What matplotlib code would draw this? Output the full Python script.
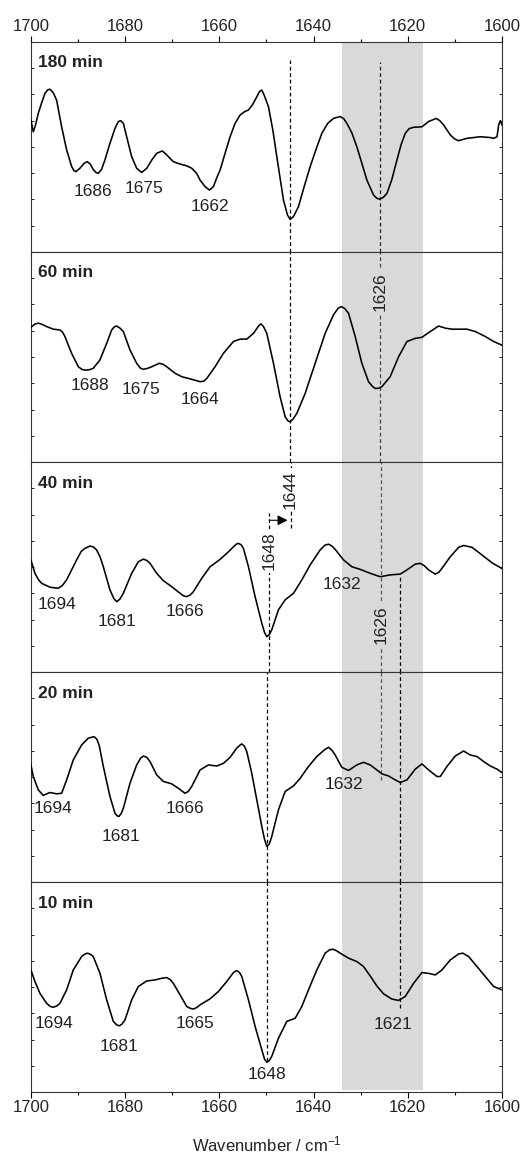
import matplotlib
matplotlib.use("Agg")
import matplotlib.pyplot as plt

plt.rcParams['font.family'] = ['Liberation Sans', 'DejaVu Sans']
plt.rcParams['mathtext.fontset'] = 'custom'
plt.rcParams['mathtext.rm'] = 'Liberation Sans'
plt.rcParams['mathtext.default'] = 'regular'

times = ["180 min", "60 min", "40 min", "20 min", "10 min"]

# (wavenumber, signal); arbitrary units, 0..8 per panel
spec_180 = [
    (1700.00, 5.03), (1699.50, 4.58), (1699.00, 4.85), (1698.44, 5.28), (1697.60, 5.75),
    (1697.00, 6.05), (1696.40, 6.18), (1695.96, 6.20), (1695.30, 6.08), (1694.55, 5.79),
    (1693.48, 4.77), (1692.42, 3.89), (1691.36, 3.26), (1690.86, 3.10), (1690.44, 3.06),
    (1689.60, 3.19), (1688.70, 3.38), (1688.03, 3.44), (1687.40, 3.35), (1686.80, 3.15),
    (1686.20, 3.03), (1685.69, 3.00), (1685.00, 3.15), (1684.30, 3.50), (1683.22, 4.14),
    (1682.15, 4.71), (1681.44, 4.97), (1680.95, 5.00), (1680.38, 4.90), (1679.67, 4.39),
    (1678.61, 3.63), (1677.55, 3.19), (1676.49, 3.03), (1675.40, 3.19), (1674.36, 3.50),
    (1673.30, 3.76), (1672.10, 3.85), (1671.18, 3.70), (1669.76, 3.44), (1668.34, 3.35),
    (1666.90, 3.28), (1665.86, 3.19), (1664.80, 2.99), (1664.09, 2.74), (1663.03, 2.49),
    (1662.11, 2.36), (1661.26, 2.49), (1660.50, 2.85), (1659.84, 3.12), (1658.78, 3.76),
    (1657.72, 4.39), (1656.66, 4.90), (1655.59, 5.22), (1654.60, 5.35), (1653.82, 5.41),
    (1653.00, 5.60), (1652.41, 5.79), (1651.49, 6.11), (1650.99, 6.17), (1650.50, 5.98),
    (1649.58, 5.54), (1648.65, 4.65), (1647.80, 3.63), (1646.39, 1.98), (1645.54, 1.41),
    (1644.97, 1.24), (1644.26, 1.35), (1643.20, 1.73), (1641.90, 2.55), (1640.72, 3.25),
    (1639.40, 3.95), (1638.24, 4.52), (1637.00, 4.90), (1635.76, 5.09), (1634.35, 5.16),
    (1633.60, 5.08), (1632.93, 4.90), (1631.90, 4.55), (1630.81, 4.01), (1629.70, 3.35),
    (1628.68, 2.74), (1627.27, 2.17), (1626.60, 2.05), (1625.99, 2.01), (1625.20, 2.08),
    (1624.43, 2.23), (1623.40, 2.75), (1622.31, 3.50), (1621.40, 4.10), (1620.54, 4.52),
    (1619.70, 4.70), (1618.77, 4.75), (1617.00, 4.77), (1616.20, 4.88), (1615.58, 4.97),
    (1613.95, 5.09), (1613.20, 5.00), (1612.39, 4.84), (1610.98, 4.46), (1610.00, 4.30),
    (1609.21, 4.24), (1607.44, 4.33), (1604.60, 4.39), (1602.50, 4.36), (1601.77, 4.33),
    (1601.06, 4.39), (1600.71, 4.84), (1600.35, 5.00), (1600.00, 4.84),
]

spec_60 = [
    (1700.00, 5.13), (1699.20, 5.25), (1698.44, 5.29), (1697.60, 5.24), (1696.67, 5.16),
    (1695.25, 5.06), (1693.84, 5.03), (1693.30, 4.95), (1692.78, 4.78), (1691.36, 4.14),
    (1689.94, 3.63), (1689.10, 3.52), (1688.31, 3.50), (1687.50, 3.52), (1686.76, 3.57),
    (1685.34, 3.89), (1683.92, 4.52), (1682.86, 5.03), (1682.30, 5.15), (1681.80, 5.18),
    (1681.10, 5.10), (1680.38, 4.97), (1678.97, 4.27), (1677.55, 3.76), (1676.80, 3.58),
    (1676.13, 3.53), (1675.20, 3.57), (1674.36, 3.63), (1672.73, 3.76), (1671.90, 3.72),
    (1671.18, 3.63), (1669.41, 3.38), (1667.99, 3.25), (1665.86, 3.15), (1664.09, 3.06),
    (1663.30, 3.08), (1662.68, 3.18), (1660.91, 3.63), (1659.14, 4.14), (1657.01, 4.59),
    (1655.60, 4.68), (1654.18, 4.68), (1652.76, 4.90), (1651.60, 5.20), (1651.13, 5.26),
    (1650.60, 5.15), (1649.93, 4.90), (1648.51, 3.76), (1647.10, 2.48), (1646.03, 1.72),
    (1645.40, 1.56), (1644.97, 1.53), (1644.30, 1.65), (1643.56, 1.85), (1641.79, 2.61),
    (1639.66, 3.76), (1637.54, 4.90), (1635.76, 5.61), (1634.80, 5.85), (1634.14, 5.92),
    (1633.40, 5.85), (1632.58, 5.67), (1631.16, 4.78), (1629.75, 3.76), (1628.33, 3.06),
    (1627.50, 2.88), (1626.91, 2.80), (1626.20, 2.81), (1625.50, 2.87), (1623.73, 3.25),
    (1621.95, 4.01), (1620.18, 4.59), (1618.41, 4.71), (1617.00, 4.75), (1615.23, 4.97),
    (1613.46, 5.18), (1612.04, 5.10), (1610.62, 5.06), (1608.85, 5.06), (1607.44, 5.06),
    (1605.67, 4.97), (1603.54, 4.78), (1601.77, 4.59), (1600.00, 4.45),
]

spec_40 = [
    (1700.00, 4.27), (1699.15, 3.76), (1698.40, 3.52), (1697.73, 3.38), (1695.96, 3.23),
    (1694.19, 3.19), (1693.30, 3.30), (1692.42, 3.51), (1690.30, 4.27), (1689.30, 4.60),
    (1688.53, 4.71), (1687.46, 4.80), (1686.70, 4.76), (1686.05, 4.65), (1685.30, 4.38),
    (1684.63, 4.01), (1683.22, 3.13), (1682.40, 2.80), (1681.80, 2.68), (1681.10, 2.78),
    (1680.38, 3.00), (1678.61, 3.76), (1677.20, 4.20), (1676.13, 4.30), (1675.40, 4.25),
    (1674.72, 4.14), (1673.30, 3.76), (1671.88, 3.48), (1670.11, 3.25), (1668.34, 3.00),
    (1667.60, 2.90), (1666.93, 2.87), (1666.20, 2.93), (1665.51, 3.06), (1663.74, 3.57),
    (1661.97, 4.01), (1659.84, 4.29), (1658.07, 4.58), (1657.01, 4.77), (1656.40, 4.87),
    (1655.95, 4.90), (1655.40, 4.85), (1654.89, 4.71), (1653.82, 4.01), (1652.41, 2.87),
    (1650.99, 1.86), (1650.40, 1.50), (1649.93, 1.35), (1649.40, 1.42), (1648.87, 1.61),
    (1647.45, 2.37), (1646.03, 2.75), (1644.26, 3.00), (1642.49, 3.51), (1640.72, 4.08),
    (1638.60, 4.65), (1637.60, 4.83), (1636.83, 4.87), (1636.10, 4.80), (1635.41, 4.67),
    (1633.64, 4.27), (1631.87, 4.01), (1630.10, 3.91), (1627.97, 3.76), (1625.85, 3.63),
    (1623.73, 3.70), (1621.60, 3.73), (1620.18, 3.89), (1618.41, 4.11), (1617.35, 4.14),
    (1616.50, 4.05), (1615.58, 3.89), (1614.16, 3.73), (1613.40, 3.80), (1612.75, 3.95),
    (1610.98, 4.39), (1609.21, 4.75), (1608.15, 4.82), (1606.37, 4.75), (1604.25, 4.46),
    (1602.12, 4.16), (1600.00, 3.94),
]

spec_20 = [
    (1700.00, 4.46), (1699.50, 4.02), (1698.44, 3.51), (1697.38, 3.30), (1695.96, 3.41),
    (1694.55, 3.36), (1693.48, 3.38), (1692.42, 3.89), (1691.01, 4.65), (1689.24, 5.22),
    (1687.82, 5.48), (1686.61, 5.54), (1686.00, 5.44), (1685.50, 5.20), (1684.63, 4.40),
    (1683.22, 3.26), (1682.15, 2.62), (1681.70, 2.52), (1681.30, 2.50), (1680.80, 2.62),
    (1680.38, 2.81), (1678.97, 3.76), (1677.55, 4.46), (1676.70, 4.72), (1676.13, 4.80),
    (1675.40, 4.75), (1674.72, 4.59), (1673.30, 4.08), (1671.88, 3.83), (1670.11, 3.74),
    (1668.70, 3.57), (1667.28, 3.38), (1666.60, 3.45), (1665.86, 3.64), (1664.09, 4.27),
    (1662.32, 4.46), (1660.55, 4.42), (1659.14, 4.52), (1657.72, 4.75), (1656.30, 5.10),
    (1655.60, 5.22), (1655.24, 5.26), (1654.70, 5.18), (1654.18, 4.97), (1653.12, 4.14),
    (1652.05, 3.13), (1650.99, 2.12), (1650.40, 1.62), (1649.93, 1.36), (1649.40, 1.45),
    (1648.87, 1.74), (1647.45, 2.75), (1646.03, 3.45), (1644.26, 3.66), (1642.85, 3.95),
    (1641.08, 4.40), (1639.31, 4.78), (1637.60, 5.05), (1636.83, 5.13), (1636.10, 5.02),
    (1635.41, 4.84), (1634.00, 4.37), (1632.58, 4.25), (1630.81, 4.46), (1629.39, 4.56),
    (1627.97, 4.46), (1626.56, 4.27), (1625.50, 4.12), (1624.08, 4.04), (1622.66, 3.89),
    (1621.60, 3.79), (1620.18, 3.89), (1618.41, 4.30), (1617.00, 4.50), (1615.58, 4.27),
    (1613.81, 4.02), (1613.10, 4.02), (1611.69, 4.40), (1609.92, 4.80), (1608.15, 4.99),
    (1606.73, 4.84), (1605.31, 4.78), (1603.90, 4.59), (1602.48, 4.42), (1601.06, 4.30),
    (1600.00, 4.17),
]

spec_10 = [
    (1700.00, 4.65), (1699.15, 4.21), (1698.09, 3.76), (1696.67, 3.38), (1695.90, 3.26),
    (1695.25, 3.23), (1694.50, 3.28), (1693.84, 3.38), (1692.42, 3.89), (1691.01, 4.65),
    (1689.24, 5.16), (1688.50, 5.26), (1687.96, 5.29), (1687.30, 5.24), (1686.76, 5.16),
    (1685.34, 4.52), (1683.92, 3.51), (1682.51, 2.69), (1681.80, 2.56), (1681.23, 2.52),
    (1680.60, 2.60), (1680.03, 2.75), (1678.61, 3.51), (1677.20, 4.02), (1675.42, 4.23),
    (1673.65, 4.27), (1672.30, 4.33), (1671.18, 4.36), (1670.40, 4.28), (1669.76, 4.14),
    (1668.34, 3.70), (1666.93, 3.26), (1666.20, 3.19), (1665.51, 3.16), (1664.80, 3.22),
    (1664.09, 3.32), (1661.97, 3.55), (1660.20, 3.83), (1658.43, 4.21), (1657.01, 4.55),
    (1656.40, 4.62), (1656.09, 4.61), (1655.60, 4.52), (1655.24, 4.40), (1653.82, 3.51),
    (1652.41, 2.50), (1650.99, 1.61), (1650.40, 1.25), (1649.93, 1.13), (1649.40, 1.20),
    (1648.87, 1.36), (1647.45, 2.05), (1645.68, 2.69), (1643.91, 2.81), (1642.49, 3.26),
    (1641.08, 3.89), (1639.31, 4.65), (1637.54, 5.29), (1636.60, 5.42), (1635.91, 5.44),
    (1635.10, 5.38), (1634.35, 5.29), (1632.58, 5.10), (1630.81, 4.97), (1629.39, 4.78),
    (1627.97, 4.42), (1626.56, 4.04), (1625.14, 3.74), (1623.37, 3.54), (1621.95, 3.49),
    (1620.54, 3.64), (1618.77, 4.14), (1617.00, 4.55), (1615.58, 4.52), (1614.16, 4.46),
    (1612.75, 4.65), (1610.98, 5.03), (1609.21, 5.26), (1608.29, 5.29), (1607.08, 5.16),
    (1605.31, 4.78), (1603.54, 4.40), (1601.77, 4.02), (1600.00, 3.89),
]

spectra = [spec_180, spec_60, spec_40, spec_20, spec_10]

# peak labels per panel: text, wavenumber, height
peaks = [
    [("1686", 1686.8, 2.30), ("1675", 1676.0, 2.43), ("1662", 1662.1, 1.73)],
    [("1688", 1687.5, 2.90), ("1675", 1676.7, 2.78), ("1664", 1664.1, 2.38)],
    [("1694", 1694.4, 2.56), ("1681", 1681.7, 1.92), ("1666", 1667.3, 2.30), ("1632", 1634.0, 3.32)],
    [("1694", 1695.4, 2.81), ("1681", 1680.9, 1.74), ("1666", 1667.3, 2.81), ("1632", 1633.5, 3.70)],
    [("1694", 1695.1, 2.62), ("1681", 1681.2, 1.74), ("1665", 1665.2, 2.62), ("1648", 1649.9, 0.66),
     ("1621", 1623.2, 2.56)],
]

band = (1633.9, 1616.8)
band_color = '#d8d9db'

# dashed guide lines: panel, wavenumber, from, to, colour
guides = [
    (0, 1645.0, 0, 7.3, 'k'), (1, 1645.0, 0, 8, 'k'), (2, 1644.8, 5.5, 8, 'k'),
    (2, 1649.4, 0, 6.05, 'k'), (3, 1649.9, 0, 8, 'k'), (4, 1649.9, 1.2, 8, 'k'),
    (0, 1625.9, 0, 7.25, '#222222'), (1, 1625.8, 0, 8, '#444444'), (2, 1625.6, 0, 8, '#555555'),
    (3, 1625.6, 3.9, 8, '#555555'),
    (2, 1621.6, 0, 3.7, 'k'), (3, 1621.6, 0, 8, 'k'), (4, 1621.6, 3.2, 8, 'k'),
]

# rotated labels on the guide lines: panel, text, wavenumber, height, background
rot_labels = [
    (1, "1626", 1625.8, 6.50, band_color),
    (2, "1644", 1644.9, 6.95, 'white'),
    (2, "1648", 1649.5, 4.62, 'white'),
    (2, "1626", 1625.6, 1.80, band_color),
]

fig, axes = plt.subplots(5, 1, figsize=(5.24, 11.6), dpi=100, sharex=True)
fig.subplots_adjust(left=0.059, right=0.958, top=0.9638, bottom=0.0586, hspace=0)

txt_color = '#222222'
for i, ax in enumerate(axes):
    wn = [p[0] for p in spectra[i]]
    ab = [p[1] for p in spectra[i]]
    if i == 4:
        ax.axvspan(band[0], band[1], ymin=0.012, color=band_color, lw=0, zorder=0)
    else:
        ax.axvspan(band[0], band[1], color=band_color, lw=0, zorder=0)
    ax.plot(wn, ab, color='black', lw=1.15, zorder=3, solid_joinstyle='round')
    ax.set_xlim(1700, 1600)
    ax.set_ylim(0, 8)
    ax.set_xticks(range(1600, 1701, 20))
    ax.set_xticks(range(1610, 1700, 20), minor=True)
    ax.set_yticks(range(1, 8))
    ax.tick_params(axis='x', which='major', direction='out', length=4, width=0.8,
                   labelsize=12, labelcolor=txt_color, pad=2)
    ax.tick_params(axis='x', which='minor', direction='out', length=2, width=0.8)
    ax.tick_params(axis='y', direction='in', length=2, width=0.6, left=True, right=True,
                   labelleft=False)
    for sp in ax.spines.values():
        sp.set_color('#333333')
        sp.set_linewidth(0.8)
    ax.text(1698.6, 7.2, times[i], fontsize=12.5, fontweight='bold', color=txt_color,
            ha='left', va='center')
    for label, x, y in peaks[i]:
        ax.text(x, y, label, fontsize=12.5, color=txt_color, ha='center', va='center', zorder=4)

for p, x, y0, y1, c in guides:
    axes[p].vlines(x, y0, y1, colors=c, linestyles=(0, (3, 2.2)), lw=0.9, zorder=2)

for p, label, x, y, bg in rot_labels:
    axes[p].text(x, y, label, fontsize=12.5, color=txt_color, rotation=90, ha='center', va='center',
                 zorder=5, bbox=dict(boxstyle='square,pad=0.15', fc=bg, ec='none'))

axes[2].annotate('', xy=(1645.5, 5.78), xytext=(1649.4, 5.78),
                 arrowprops=dict(arrowstyle='-|>,head_length=0.6,head_width=0.3',
                                 color='black', lw=0.8, shrinkA=0, shrinkB=0), zorder=6)

axes[0].tick_params(axis='x', which='both', top=True, labeltop=True)
axes[4].set_xlabel("Wavenumber / cm$^{-1}$", fontsize=12, color=txt_color, labelpad=14)

plt.savefig("out.png", dpi=100)
